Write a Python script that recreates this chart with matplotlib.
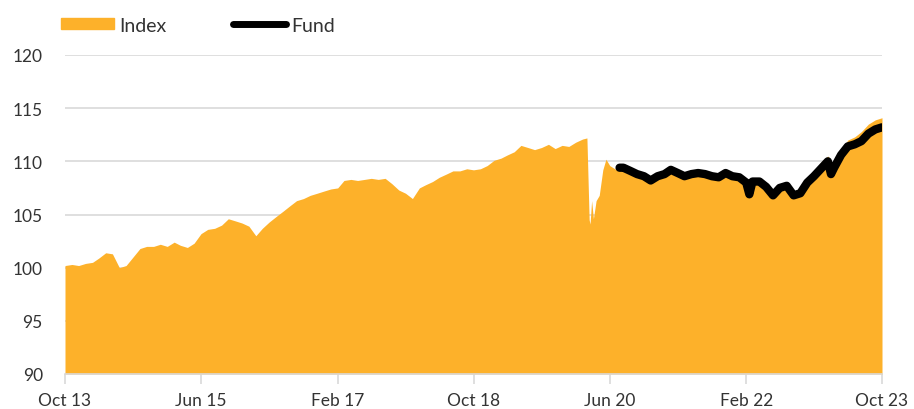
import matplotlib
matplotlib.use("Agg")
from matplotlib import pyplot as plt
from matplotlib.patches import Patch
from matplotlib.lines import Line2D
import pandas as pd

plt.rcParams['font.family'] = ['Lato', 'DejaVu Sans']

# Index, monthly from Oct 2013 to Oct 2023
index_values = [
    100.2, 100.3, 100.2, 100.4, 100.5, 100.9, 101.4, 101.3, 100.0, 100.2,
    101.0, 101.8, 102.0, 102.0, 102.2, 102.0, 102.4, 102.1, 101.9, 102.3,
    103.2, 103.6, 103.7, 104.0, 104.6, 104.4, 104.2, 103.9, 103.0, 103.7,
    104.3, 104.8, 105.3, 105.8, 106.3, 106.5, 106.8, 107.0, 107.2, 107.4,
    107.5, 108.2, 108.3, 108.2, 108.3, 108.4, 108.3, 108.4, 107.9, 107.3,
    107.0, 106.5, 107.5, 107.8, 108.1, 108.5, 108.8, 109.1, 109.1, 109.3,
    109.2, 109.3, 109.6, 110.1, 110.3, 110.6, 110.9, 111.5, 111.3, 111.1,
    111.3, 111.6, 111.2, 111.5, 111.4, 111.8, 112.1, 104.5, 106.3, 109.2,
    109.6, 109.2, 109.2, 109.0, 108.7, 108.5, 108.1, 108.5, 108.7, 109.1,
    108.8, 108.5, 108.7, 108.8, 108.7, 108.5, 108.4, 108.8, 108.5, 108.4,
    107.9, 108.0, 108.0, 107.5, 106.7, 107.4, 107.6, 106.7, 107.1, 108.3,
    109.1, 109.9, 110.5, 109.6, 111.1, 112.0, 112.3, 112.8, 113.5, 113.9,
    114.1,
]
# extra points around the March 2020 crash and Feb 2022 dip
extra_dates = ["2020-02-20", "2020-03-05", "2020-03-12", "2020-03-20", "2020-04-15", "2020-05-15", "2022-02-15"]
extra_values = [112.2, 104.1, 106.3, 104.6, 106.8, 110.2, 106.8]

fund_dates = ["2020-07-15", "2020-08-01", "2020-09-01", "2020-10-01", "2020-11-01", "2020-12-01",
              "2021-01-01", "2021-02-01", "2021-03-01", "2021-04-01", "2021-05-01", "2021-06-01",
              "2021-07-01", "2021-08-01", "2021-09-01", "2021-10-01", "2021-11-01", "2021-12-01",
              "2022-01-01", "2022-02-01", "2022-02-15", "2022-03-01", "2022-04-01", "2022-05-01",
              "2022-06-01", "2022-07-01", "2022-08-01", "2022-09-01", "2022-10-01", "2022-11-01",
              "2022-12-01", "2023-01-01", "2023-02-01", "2023-02-15", "2023-03-01", "2023-04-01",
              "2023-05-01", "2023-06-01", "2023-07-01", "2023-08-01", "2023-09-01", "2023-10-01"]
fund_values = [109.4, 109.4, 109.1, 108.8, 108.6, 108.2, 108.6, 108.8, 109.2, 108.9,
               108.6, 108.8, 108.9, 108.8, 108.6, 108.5, 108.9, 108.6, 108.5, 108.0,
               106.9, 108.1, 108.1, 107.6, 106.8, 107.5, 107.7, 106.8, 107.0, 108.0,
               108.6, 109.3, 110.0, 108.8, 109.4, 110.6, 111.4, 111.6, 111.9, 112.6,
               113.0, 113.2]

tick_labels = ["Oct 13", "Jun 15", "Feb 17", "Oct 18", "Jun 20", "Feb 22", "Oct 23"]

index = pd.Series(index_values, index=pd.date_range("2013-10-01", periods=len(index_values), freq="MS"))
index = pd.concat([index, pd.Series(extra_values, index=pd.to_datetime(extra_dates))]).sort_index()
fund = pd.Series(fund_values, index=pd.to_datetime(fund_dates))

orange = "#FDB12A"
txt = "#333333"

fig = plt.figure(figsize=(9.14, 4.10), dpi=100)
ax = fig.add_axes([65/914, 1-375/410, (882-65)/914, (375-56)/410])

ax.fill_between(index.index, 90, index.values, color=orange, lw=0)
ax.plot(fund.index, fund.values, color="black", lw=6, solid_capstyle="round", solid_joinstyle="round")

ax.set_ylim(90, 120)
ax.set_xlim(pd.Timestamp("2013-10-01"), pd.Timestamp("2023-10-01"))
ax.set_yticks(range(90, 121, 5))
ax.grid(axis="y", color="#d9d9d9", lw=1.2)
ax.set_axisbelow(True)

ticks = pd.date_range("2013-10-01", periods=7, freq="20MS")
ax.set_xticks(ticks)
ax.set_xticklabels(tick_labels)

for s in ["top", "right", "left"]:
    ax.spines[s].set_visible(False)
ax.spines["bottom"].set_color("#d9d9d9")
ax.spines["bottom"].set_linewidth(1.2)
ax.tick_params(axis="x", colors="#d9d9d9", length=7, width=1.2, labelcolor=txt, labelsize=12.5, pad=6)
ax.tick_params(axis="y", length=0, labelcolor=txt, labelsize=12.5, pad=16)

handles = [Patch(color=orange, label="Index"),
           Line2D([], [], color="black", lw=5, solid_capstyle="round", label="Fund")]
ax.legend(handles=handles, loc="center left", bbox_to_anchor=(-0.005, 1.094), ncol=2, frameon=False,
          fontsize=14, labelcolor=txt, handlelength=2.75, handleheight=0.55, handletextpad=0.25,
          columnspacing=3.4, borderaxespad=0, borderpad=0)

fig.savefig("out.png", dpi=100)
